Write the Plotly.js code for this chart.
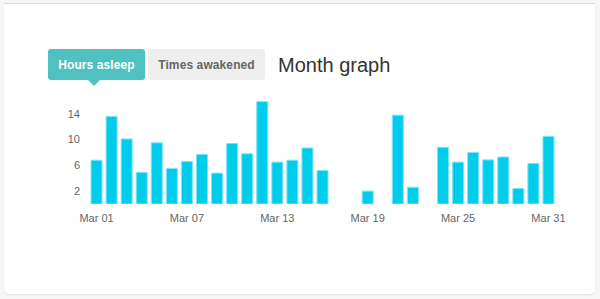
<!DOCTYPE html>
<html>
<head>
<meta charset="utf-8">
<script src="https://cdn.plot.ly/plotly-3.0.1.min.js"></script>
<style>
  html, body { margin: 0; padding: 0; width: 600px; height: 299px; background: #f6f6f6; overflow: hidden; font-family: "Liberation Sans", Arial, Helvetica, sans-serif; }
  #card { position: absolute; left: 4px; top: 3px; width: 591px; height: 290px; background: #fff; border-top: 1px solid #d9d9d9; border-radius: 0 0 5px 5px; box-shadow: 0 1px 2px rgba(0,0,0,0.08); }
  .btn { position: absolute; top: 49px; height: 31px; line-height: 33px; font-size: 12px; font-weight: bold; border-radius: 3px; text-align: center; letter-spacing: 0.1px; }
  #b1 { left: 48px; width: 97px; background: #4fc1c1; color: #fff; }
  #b1:after { content: ""; position: absolute; left: 40px; top: 31px; border-left: 6px solid transparent; border-right: 6px solid transparent; border-top: 6px solid #4fc1c1; }
  #b2 { left: 148px; width: 117px; background: #efefef; color: #666; }
  #ttl { position: absolute; left: 278px; top: 51px; font-size: 20px; color: #333; line-height: 28px; }
  #chart { position: absolute; left: 0; top: 0; width: 600px; height: 299px; }
</style>
</head>
<body>
<div id="card"></div>
<div class="btn" id="b1">Hours asleep</div>
<div class="btn" id="b2">Times awakened</div>
<div id="ttl">Month graph</div>
<div id="chart"></div>
<script>
const dates = ["2015-03-01","2015-03-02","2015-03-03","2015-03-04","2015-03-05","2015-03-06","2015-03-07","2015-03-08","2015-03-09","2015-03-10","2015-03-11","2015-03-12","2015-03-13","2015-03-14","2015-03-15","2015-03-16","2015-03-17","2015-03-18","2015-03-19","2015-03-20","2015-03-21","2015-03-22","2015-03-23","2015-03-24","2015-03-25","2015-03-26","2015-03-27","2015-03-28","2015-03-29","2015-03-30","2015-03-31"];
const hoursAsleep = [6.8,13.6,10.1,4.9,9.5,5.5,6.6,7.7,4.8,9.4,7.8,15.9,6.5,6.8,8.7,5.2,null,null,2.0,null,13.8,2.6,null,8.8,6.5,8.0,6.85,7.3,2.4,6.3,10.5];
const yTickVals = [2,6,10,14];
const xTickStart = "2015-03-01";

Plotly.newPlot("chart", [{
  type: "bar",
  x: dates,
  y: hoursAsleep,
  marker: { color: "#00cdeb", line: { color: "#7fe3f3", width: 1 } },
  hoverinfo: "x+y"
}], {
  width: 600, height: 299,
  margin: { l: 88.5, r: 43.5, t: 101, b: 94.5, pad: 0 },
  paper_bgcolor: "rgba(0,0,0,0)",
  plot_bgcolor: "rgba(0,0,0,0)",
  bargap: 0.27,
  showlegend: false,
  font: { family: "Liberation Sans, Arial, sans-serif", size: 11, color: "#666" },
  xaxis: {
    type: "date",
    range: ["2015-02-28 12:00", "2015-03-31 12:00"],
    tick0: xTickStart, dtick: 6 * 86400000,
    tickformat: "%b %d",
    showgrid: false, zeroline: false, showline: false,
    ticks: "", ticklabelstandoff: 6
  },
  yaxis: {
    range: [0, 16],
    tickvals: yTickVals,
    showgrid: false, zeroline: false, showline: false,
    ticks: "", ticklabelstandoff: 8
  }
}, { displayModeBar: false, staticPlot: true });
</script>
</body>
</html>
